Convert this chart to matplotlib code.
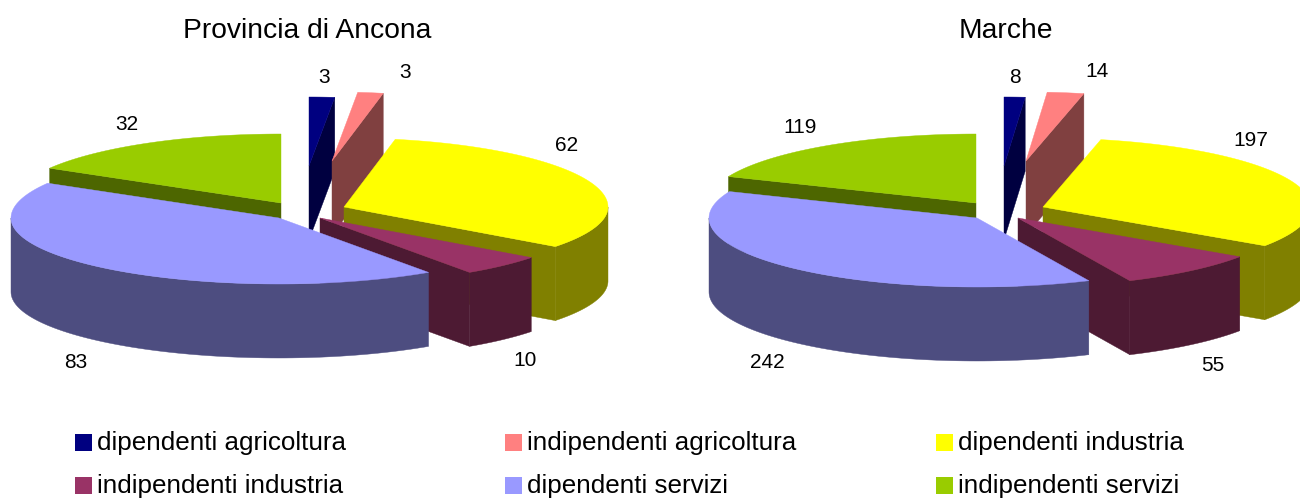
import numpy as np
import matplotlib
matplotlib.use("Agg")
import matplotlib.pyplot as plt
from matplotlib.patches import Polygon, Rectangle

plt.rcParams['font.family'] = ['Liberation Sans', 'DejaVu Sans']

# data
categories = ['dipendenti agricoltura', 'indipendenti agricoltura', 'dipendenti industria',
              'indipendenti industria', 'dipendenti servizi', 'indipendenti servizi']
ancona_values = [3, 3, 62, 10, 83, 32]
marche_values = [8, 14, 197, 55, 242, 119]

colors = ['#000080', '#FF8080', '#FFFF00', '#993366', '#9999FF', '#99CC00']
side_colors = ['#000040', '#804040', '#808000', '#4D1A33', '#4D4D80', '#4D6600']

# exploded apex of every slice, in pixels
ancona_apex = [(309, 166), (332, 161), (344, 207), (320, 218), (279, 218), (281, 203)]
marche_apex = [(1004, 166), (1026, 161), (1043, 207), (1018, 218), (977, 218), (976, 203)]

ancona_labels = [(324, 77), (405, 72), (567, 145), (525, 360), (76, 362), (127, 124)]
marche_labels = [(1015, 77), (1097, 71), (1251, 140), (1213, 365), (767, 362), (800, 127)]

# ellipse radii: right, left, back, front (the front of the first pie is a bit smaller)
ancona_radii = (264, 268, 69, 66)
marche_radii = (268, 268, 69, 69)
DEPTH = 74
# painter order, back to front
DRAW_ORDER = [5, 0, 1, 2, 3, 4]


def rim(apex, angle, radii):
    # angle in degrees, clockwise from 12 o'clock
    a = np.radians(angle)
    s, c = np.sin(a), np.cos(a)
    rx = radii[0] if s > 0 else radii[1]
    ry = radii[2] if c > 0 else radii[3]
    return apex[0] + rx * s, apex[1] - ry * c


def wall(ax, apex, angle, radii, color, zorder):
    x, y = rim(apex, angle, radii)
    pts = [apex, (x, y), (x, y + DEPTH), (apex[0], apex[1] + DEPTH)]
    ax.add_patch(Polygon(pts, closed=True, fc=color, ec=color, lw=0.3, zorder=zorder))


def draw_slice(ax, apex, start, end, radii, color, side, zorder):
    if np.sin(np.radians(start)) < 0:
        wall(ax, apex, start, radii, side, zorder)
    if np.sin(np.radians(end)) > 0:
        wall(ax, apex, end, radii, side, zorder)

    # outer side, only the part facing the viewer
    lo, hi = max(start, 90), min(end, 270)
    if lo < hi:
        angles = np.linspace(lo, hi, 80)
        top = [rim(apex, a, radii) for a in angles]
        bottom = [(x, y + DEPTH) for x, y in top]
        ax.add_patch(Polygon(top + bottom[::-1], closed=True, fc=side, ec=side, lw=0.3, zorder=zorder))

    angles = np.linspace(start, end, 120)
    pts = [apex] + [rim(apex, a, radii) for a in angles]
    ax.add_patch(Polygon(pts, closed=True, fc=color, ec=color, lw=0.3, zorder=zorder + 0.5))


def draw_pie(ax, values, apex, radii, labels, title, title_x):
    values = np.array(values, dtype=float)
    edges = np.concatenate([[0], np.cumsum(values) / values.sum() * 360])
    for n, i in enumerate(DRAW_ORDER):
        draw_slice(ax, apex[i], edges[i], edges[i + 1], radii, colors[i], side_colors[i], 2 + n)
    for v, (x, y) in zip(values, labels):
        ax.text(x, y, '%d' % v, ha='center', va='center', fontsize=15, color='black', zorder=20)
    ax.text(title_x, 31, title, ha='center', va='center', fontsize=20.3, color='black', zorder=20)


fig = plt.figure(figsize=(13, 4.98), dpi=100)
ax = fig.add_axes([0, 0, 1, 1])
ax.set_xlim(0, 1300)
ax.set_ylim(498, 0)
ax.axis('off')

draw_pie(ax, ancona_values, ancona_apex, ancona_radii, ancona_labels, 'Provincia di Ancona', 307)
draw_pie(ax, marche_values, marche_apex, marche_radii, marche_labels, 'Marche', 1006)

# legend, 3 columns by 2 rows
legend_x = [75, 505, 936]
legend_y = [442, 485]
for i, name in enumerate(categories):
    x = legend_x[i % 3]
    y = legend_y[i // 3]
    ax.add_patch(Rectangle((x, y - 8), 17, 17, fc=colors[i], ec='none'))
    ax.text(x + 22, y + 1, name, ha='left', va='center', fontsize=18.7, color='black')

fig.savefig('out.png', dpi=100)
